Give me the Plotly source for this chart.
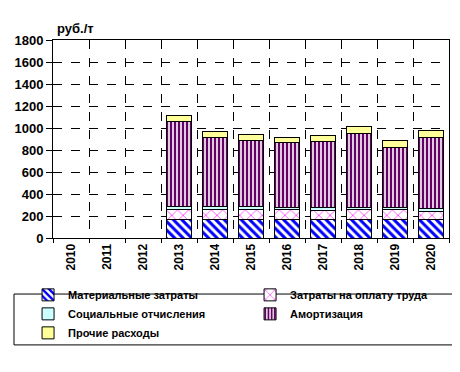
import plotly.graph_objects as go

years = ["2010", "2011", "2012", "2013", "2014", "2015", "2016", "2017", "2018", "2019", "2020"]
materials = [None, None, None, 170, 170, 170, 170, 170, 170, 170, 170]
labor = [None, None, None, 90, 90, 90, 85, 83, 85, 85, 73]
social = [None, None, None, 28, 28, 28, 24, 26, 24, 24, 21]
amort = [None, None, None, 773, 627, 600, 585, 600, 673, 545, 651]
other = [None, None, None, 54, 55, 55, 51, 55, 63, 64, 64]

names = ["Материальные затраты", "Затраты на оплату труда", "Социальные отчисления",
         "Амортизация", "Прочие расходы"]
y_ticks = [0, 200, 400, 600, 800, 1000, 1200, 1400, 1600, 1800]

FONT = "Arial, Liberation Sans, sans-serif"

fig = go.Figure()
styles = [
    dict(color="white", pattern=dict(shape="\\", fgcolor="#0000FF", bgcolor="white", size=6, solidity=0.5, fillmode="replace", fgopacity=1)),
    dict(color="white", pattern=dict(shape="x", fgcolor="#FF00FF", bgcolor="white", size=8, solidity=0.15, fillmode="replace", fgopacity=1)),
    dict(color="#CCFFFF"),
    dict(color="white", pattern=dict(shape="|", fgcolor="#660066", bgcolor="white", size=4, solidity=0.6, fillmode="replace", fgopacity=1)),
    dict(color="#FFFF99"),
]
for vals, name, st in zip([materials, labor, social, amort, other], names, styles):
    m = dict(st)
    m["line"] = dict(color="black", width=1)
    fig.add_trace(go.Bar(x=years, y=vals, name=name, marker=m))

fig.update_layout(
    barmode="stack",
    bargap=0.33,
    width=460, height=372,
    margin=dict(l=45, r=19, t=32, b=142, autoexpand=False),
    plot_bgcolor="white", paper_bgcolor="white",
    font=dict(family=FONT, size=11, color="black"),
    showlegend=True,
    legend=dict(
        orientation="h", x=-0.063, xanchor="left", y=-0.214, yanchor="top",
        entrywidth=177, entrywidthmode="pixels",
        font=dict(family=FONT, size=11, color="black", weight="bold"),
        bgcolor="rgba(0,0,0,0)", borderwidth=0, traceorder="normal",
        tracegroupgap=0,
    ),
    annotations=[dict(text="<b>руб./т</b>", xref="paper", yref="paper", x=0.005, y=1.056,
                      xanchor="left", yanchor="middle", showarrow=False,
                      font=dict(family=FONT, size=13, color="black"))],
    shapes=[dict(type="rect", xref="paper", yref="paper", x0=-0.0985, x1=1.0328,
                 y0=-0.283, y1=-0.540, line=dict(color="black", width=1))],
)
fig.update_xaxes(
    type="category", tickson="boundaries", showgrid=True, gridcolor="black",
    griddash="dash", gridwidth=1, showline=True, linecolor="black", linewidth=1,
    mirror=True, ticks="outside", ticklen=4, tickcolor="black", tickangle=-90,
    tickfont=dict(family=FONT, size=12, color="black", weight="bold"),
)
fig.update_yaxes(
    range=[0, 1800], tickvals=y_ticks,
    showgrid=True, gridcolor="black", griddash="dash", gridwidth=1,
    showline=True, linecolor="black", linewidth=1, mirror=True,
    ticks="outside", ticklen=6, tickcolor="black", zeroline=False,
    tickfont=dict(family=FONT, size=13, color="black", weight="bold"),
)
fig.write_html("out.html")
